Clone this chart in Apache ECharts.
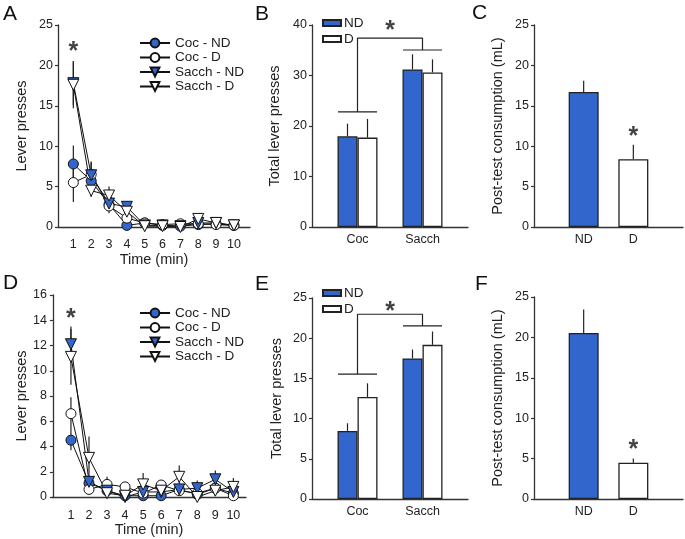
<!DOCTYPE html>
<html>
<head>
<meta charset="utf-8">
<script src="https://cdn.jsdelivr.net/npm/echarts@6/dist/echarts.min.js"></script>
<style>
html, body { margin: 0; padding: 0; background: #fff; }
#chart { width: 685px; height: 539px; }
</style>
</head>
<body>
<div id="chart"></div>
<script>
// ---- data ----
var minutes = [1, 2, 3, 4, 5, 6, 7, 8, 9, 10];
var lineNames = ['Coc - ND', 'Coc - D', 'Sacch - ND', 'Sacch - D'];

// panel A (cocaine / saccharin, lever presses per minute)
var cocND_A = [7.8, 5.7, 2.8, 0.2, 0.5, 0.2, 0.1, 0.3, 0.4, 0.2];
var cocND_A_err = [2.3, 1.5, 0.6, 0.2, 0.1, 0.1, 0.1, 0.2, 0.2, 0.1];
var cocD_A = [5.5, 6.5, 2.6, 1.1, 0.5, 0.3, 0.4, 0.4, 0.3, 0.2];
var cocD_A_err = [2.4, 1.5, 0.9, 0.6, 0.2, 0.2, 0.2, 0.2, 0.1, 0.1];
var sacND_A = [17.8, 6.4, 2.9, 2.5, 0.2, 0.2, 0.1, 0.5, 0.5, 0.2];
var sacND_A_err = [2.7, 1.7, 0.8, 0.6, 0.1, 0.1, 0.1, 0.3, 0.2, 0.1];
var sacD_A = [17.6, 4.5, 3.9, 1.9, 0.1, 0.1, 0.0, 1.0, 0.5, 0.2];
var sacD_A_err = [2.9, 0.8, 1.1, 0.7, 0.1, 0.1, 0.1, 0.4, 0.2, 0.1];

// panel D
var cocND_D = [4.5, 1.1, 0.5, 0.1, 0.1, 0.1, 0.6, 0.2, 0.7, 0.3];
var cocND_D_err = [0.8, 0.3, 0.2, 0.1, 0.1, 0.1, 0.3, 0.2, 0.3, 0.2];
var cocD_D = [6.6, 0.6, 1.0, 0.8, 0.3, 0.95, 0.5, 0.3, 0.7, 0.1];
var cocD_D_err = [1.3, 0.3, 0.6, 0.3, 0.2, 0.3, 0.3, 0.2, 0.3, 0.1];
var sacND_D = [12.1, 1.2, 0.5, 0.0, 0.4, 0.4, 0.6, 0.7, 1.4, 0.4];
var sacND_D_err = [1.4, 0.4, 0.3, 0.1, 0.3, 0.3, 0.3, 0.6, 0.7, 0.3];
var sacD_D = [11.1, 3.1, 0.3, 0.1, 1.0, 0.5, 1.6, 0.0, 0.5, 0.8];
var sacD_D_err = [2.2, 1.7, 0.3, 0.2, 0.9, 0.3, 0.9, 0.2, 0.4, 0.7];

// panels B / E (total lever presses)
var groups = ['Coc', 'Sacch'];
var groupPos = [1, 2];
var totND_B = [17.96, 31.2];
var totND_B_err = [2.5, 3.0];
var totD_B = [17.7, 30.6];
var totD_B_err = [3.7, 2.6];
var totND_E = [8.47, 17.49];
var totND_E_err = [0.95, 1.1];
var totD_E = [12.69, 19.17];
var totD_E_err = [1.7, 1.66];

// panels C / F (post-test consumption)
var conds = ['ND', 'D'];
var condPos = [1, 2];
var cons_C = [16.7, 8.38];
var cons_C_err = [1.4, 1.8];
var cons_F = [20.54, 4.5];
var cons_F_err = [2.9, 0.5];

// significance marks
var starA = [1, 21.6];
var starD = [1, 14.1];
var starB = [1.5, 38.8];
var starE = [1.5, 23.3];
var starC = [2, 11.1];
var starF = [2, 6.0];
// bracket heights: [coc line, top, sacch line]
var bracketB = [22.8, 37.4, 35.05];
var bracketE = [15.54, 22.98, 21.53];

// ---- styles ----
var BLUE = '#3366cc';
var INK = '#222';
var FONT = 'Liberation Sans, Arial, sans-serif';

function pairs(xs, ys) {
    var out = [];
    for (var i = 0; i < xs.length; i++) out.push([xs[i], ys[i]]);
    return out;
}

function errBoth(xs, ys, es) {
    var out = [];
    for (var i = 0; i < xs.length; i++) out.push([xs[i], ys[i] - es[i], ys[i] + es[i]]);
    return out;
}

function errUp(xs, ys, es) {
    var out = [];
    for (var i = 0; i < xs.length; i++) out.push([xs[i], ys[i], ys[i] + es[i]]);
    return out;
}

function errSeries(gi, data, dx, z) {
    return {
        type: 'custom', xAxisIndex: gi, yAxisIndex: gi, z: z,
        encode: { x: 0, y: [1, 2] },
        silent: true,
        renderItem: function (params, api) {
            var a = api.coord([api.value(0), api.value(1)]);
            var b = api.coord([api.value(0), api.value(2)]);
            return {
                type: 'line',
                shape: { x1: a[0] + dx, y1: a[1], x2: b[0] + dx, y2: b[1] },
                style: { stroke: INK, lineWidth: 1.2 }
            };
        },
        data: data
    };
}

function lineSeries(gi, name, ys, filled, tri) {
    return {
        name: name, type: 'line', xAxisIndex: gi, yAxisIndex: gi, z: 3,
        data: pairs(minutes, ys),
        symbol: tri ? 'triangle' : 'circle',
        symbolRotate: tri ? 180 : 0,
        symbolSize: tri ? 11 : 10,
        lineStyle: { color: '#111', width: 1 },
        itemStyle: { color: filled ? BLUE : '#fff', borderColor: '#111', borderWidth: 1 }
    };
}

function starSeries(gi, pt) {
    return {
        type: 'scatter', xAxisIndex: gi, yAxisIndex: gi, z: 5, silent: true,
        symbol: 'circle', symbolSize: 1, itemStyle: { color: 'rgba(0,0,0,0)' },
        label: {
            show: true, position: 'inside', formatter: '*', fontSize: 25, fontWeight: 'bold',
            color: '#111', textBorderWidth: 0, fontFamily: FONT
        },
        data: [pt]
    };
}

function bracketSeries(gi, h) {
    return {
        type: 'line', xAxisIndex: gi, yAxisIndex: gi, z: 4, silent: true,
        symbol: 'none',
        lineStyle: { color: INK, width: 1.2 },
        data: [[groupPos[0] - 0.3, h[0]], [groupPos[0] + 0.3, h[0]], [groupPos[0], h[0]],
               [groupPos[0], h[1]], [groupPos[1], h[1]], [groupPos[1], h[2]],
               [groupPos[1] - 0.3, h[2]], [groupPos[1] + 0.3, h[2]]]
    };
}

function barPair(gi, name, pos, ys, filled) {
    return {
        name: name, type: 'bar', xAxisIndex: gi, yAxisIndex: gi, z: 2,
        barWidth: 20, barGap: '0%',
        itemStyle: { color: filled ? BLUE : '#fff', borderColor: INK, borderWidth: 1.3 },
        data: pairs(pos, ys)
    };
}

function consSeries(gi, ys) {
    return {
        name: 'consumption' + gi, type: 'bar', xAxisIndex: gi, yAxisIndex: gi, z: 2,
        barWidth: 30,
        data: [
            { value: [condPos[0], ys[0]], itemStyle: { color: BLUE, borderColor: INK, borderWidth: 1.3 } },
            { value: [condPos[1], ys[1]], itemStyle: { color: '#fff', borderColor: INK, borderWidth: 1.3 } }
        ]
    };
}

var axisLine = { show: true, lineStyle: { color: '#333', width: 1.3 } };
var labelStyle = { color: INK, fontSize: 12.5, fontFamily: FONT };
var nameStyle = { color: INK, fontSize: 14.5, fontFamily: FONT };

function xTime(gi, min, max, margin) {
    return {
        gridIndex: gi, type: 'value', min: min, max: max,
        axisLine: axisLine, axisTick: { show: false }, splitLine: { show: false },
        axisLabel: Object.assign({ customValues: minutes, margin: margin }, labelStyle),
        name: 'Time (min)', nameLocation: 'middle', nameGap: 25, nameTextStyle: nameStyle
    };
}

function xCat(gi, min, max, pos, names) {
    return {
        gridIndex: gi, type: 'value', min: min, max: max,
        axisLine: axisLine, axisTick: { show: false }, splitLine: { show: false },
        axisLabel: Object.assign({
            customValues: pos, margin: 6,
            formatter: function (v) { return names[pos.indexOf(v)]; }
        }, labelStyle)
    };
}

function yVal(gi, max, interval, name, gap) {
    return {
        gridIndex: gi, type: 'value', min: 0, max: max, interval: interval,
        axisLine: axisLine,
        axisTick: { show: true, length: 3, lineStyle: { color: '#333', width: 1.2 } },
        splitLine: { show: false },
        axisLabel: Object.assign({ margin: 5 }, labelStyle),
        name: name, nameLocation: 'middle', nameGap: gap, nameTextStyle: nameStyle
    };
}

var lineLegend = {
    orient: 'vertical', itemWidth: 30, itemHeight: 11, itemGap: 0.5,
    selectedMode: false,
    textStyle: { color: INK, fontSize: 13.5, fontFamily: FONT },
    data: lineNames
};
var barLegend = {
    orient: 'vertical', itemWidth: 18, itemHeight: 6, itemGap: 2,
    selectedMode: false, icon: 'rect',
    textStyle: { color: INK, fontSize: 13.5, fontFamily: FONT, padding: [0, 0, 0, -2] },
    data: ['ND', 'D']
};

function letter(text, x, y) {
    return { type: 'text', left: x, top: y, style: { text: text, fontSize: 21, fill: '#111', fontFamily: FONT } };
}

var chart = echarts.init(document.getElementById('chart'));
chart.setOption({
    animation: false,
    backgroundColor: '#fff',
    graphic: [
        letter('A', 3, 4), letter('B', 255, 4), letter('C', 472, 3),
        letter('D', 3, 273), letter('E', 255, 274), letter('F', 475, 274)
    ],
    legend: [
        Object.assign({ left: 134, top: 31 }, lineLegend),
        Object.assign({ left: 317, top: 11 }, barLegend),
        Object.assign({ left: 134, top: 301 }, lineLegend),
        Object.assign({ left: 317, top: 281 }, barLegend)
    ],
    grid: [
        { left: 58, top: 25, width: 192, height: 202 },
        { left: 312, top: 25, width: 156, height: 202 },
        { left: 534, top: 25, width: 149, height: 202 },
        { left: 52, top: 295, width: 194, height: 202 },
        { left: 312, top: 298, width: 156, height: 201 },
        { left: 534, top: 297, width: 149, height: 202 }
    ],
    xAxis: [
        xTime(0, 0.14, 10.9, 11),
        xCat(1, 0.3, 2.7, groupPos, groups),
        xCat(2, 0, 3, condPos, conds),
        xTime(3, -0.05, 10.7, 12),
        xCat(4, 0.3, 2.7, groupPos, groups),
        xCat(5, 0, 3, condPos, conds)
    ],
    yAxis: [
        yVal(0, 25, 5, 'Lever presses', 29),
        yVal(1, 40, 10, 'Total lever presses', 30),
        yVal(2, 25, 5, 'Post-test consumption (mL)', 29),
        yVal(3, 16, 2, 'Lever presses', 23),
        yVal(4, 25, 5, 'Total lever presses', 28),
        yVal(5, 25, 5, 'Post-test consumption (mL)', 29)
    ],
    series: [
        // A
        errSeries(0, errBoth(minutes, cocND_A, cocND_A_err), 0, 1),
        errSeries(0, errBoth(minutes, cocD_A, cocD_A_err), 0, 1),
        errSeries(0, errBoth(minutes, sacND_A, sacND_A_err), 0, 1),
        errSeries(0, errBoth(minutes, sacD_A, sacD_A_err), 0, 1),
        lineSeries(0, lineNames[0], cocND_A, true, false),
        lineSeries(0, lineNames[1], cocD_A, false, false),
        lineSeries(0, lineNames[2], sacND_A, true, true),
        lineSeries(0, lineNames[3], sacD_A, false, true),
        starSeries(0, starA),
        // B
        barPair(1, 'ND', groupPos, totND_B, true),
        barPair(1, 'D', groupPos, totD_B, false),
        errSeries(1, errUp(groupPos, totND_B, totND_B_err), -10, 1),
        errSeries(1, errUp(groupPos, totD_B, totD_B_err), 10, 1),
        bracketSeries(1, bracketB),
        starSeries(1, starB),
        // C
        consSeries(2, cons_C),
        errSeries(2, errUp(condPos, cons_C, cons_C_err), 0, 1),
        starSeries(2, starC),
        // D
        errSeries(3, errBoth(minutes, cocND_D, cocND_D_err), 0, 1),
        errSeries(3, errBoth(minutes, cocD_D, cocD_D_err), 0, 1),
        errSeries(3, errBoth(minutes, sacND_D, sacND_D_err), 0, 1),
        errSeries(3, errBoth(minutes, sacD_D, sacD_D_err), 0, 1),
        lineSeries(3, lineNames[0], cocND_D, true, false),
        lineSeries(3, lineNames[1], cocD_D, false, false),
        lineSeries(3, lineNames[2], sacND_D, true, true),
        lineSeries(3, lineNames[3], sacD_D, false, true),
        starSeries(3, starD),
        // E
        barPair(4, 'ND', groupPos, totND_E, true),
        barPair(4, 'D', groupPos, totD_E, false),
        errSeries(4, errUp(groupPos, totND_E, totND_E_err), -10, 1),
        errSeries(4, errUp(groupPos, totD_E, totD_E_err), 10, 1),
        bracketSeries(4, bracketE),
        starSeries(4, starE),
        // F
        consSeries(5, cons_F),
        errSeries(5, errUp(condPos, cons_F, cons_F_err), 0, 1),
        starSeries(5, starF)
    ]
});
</script>
</body>
</html>
